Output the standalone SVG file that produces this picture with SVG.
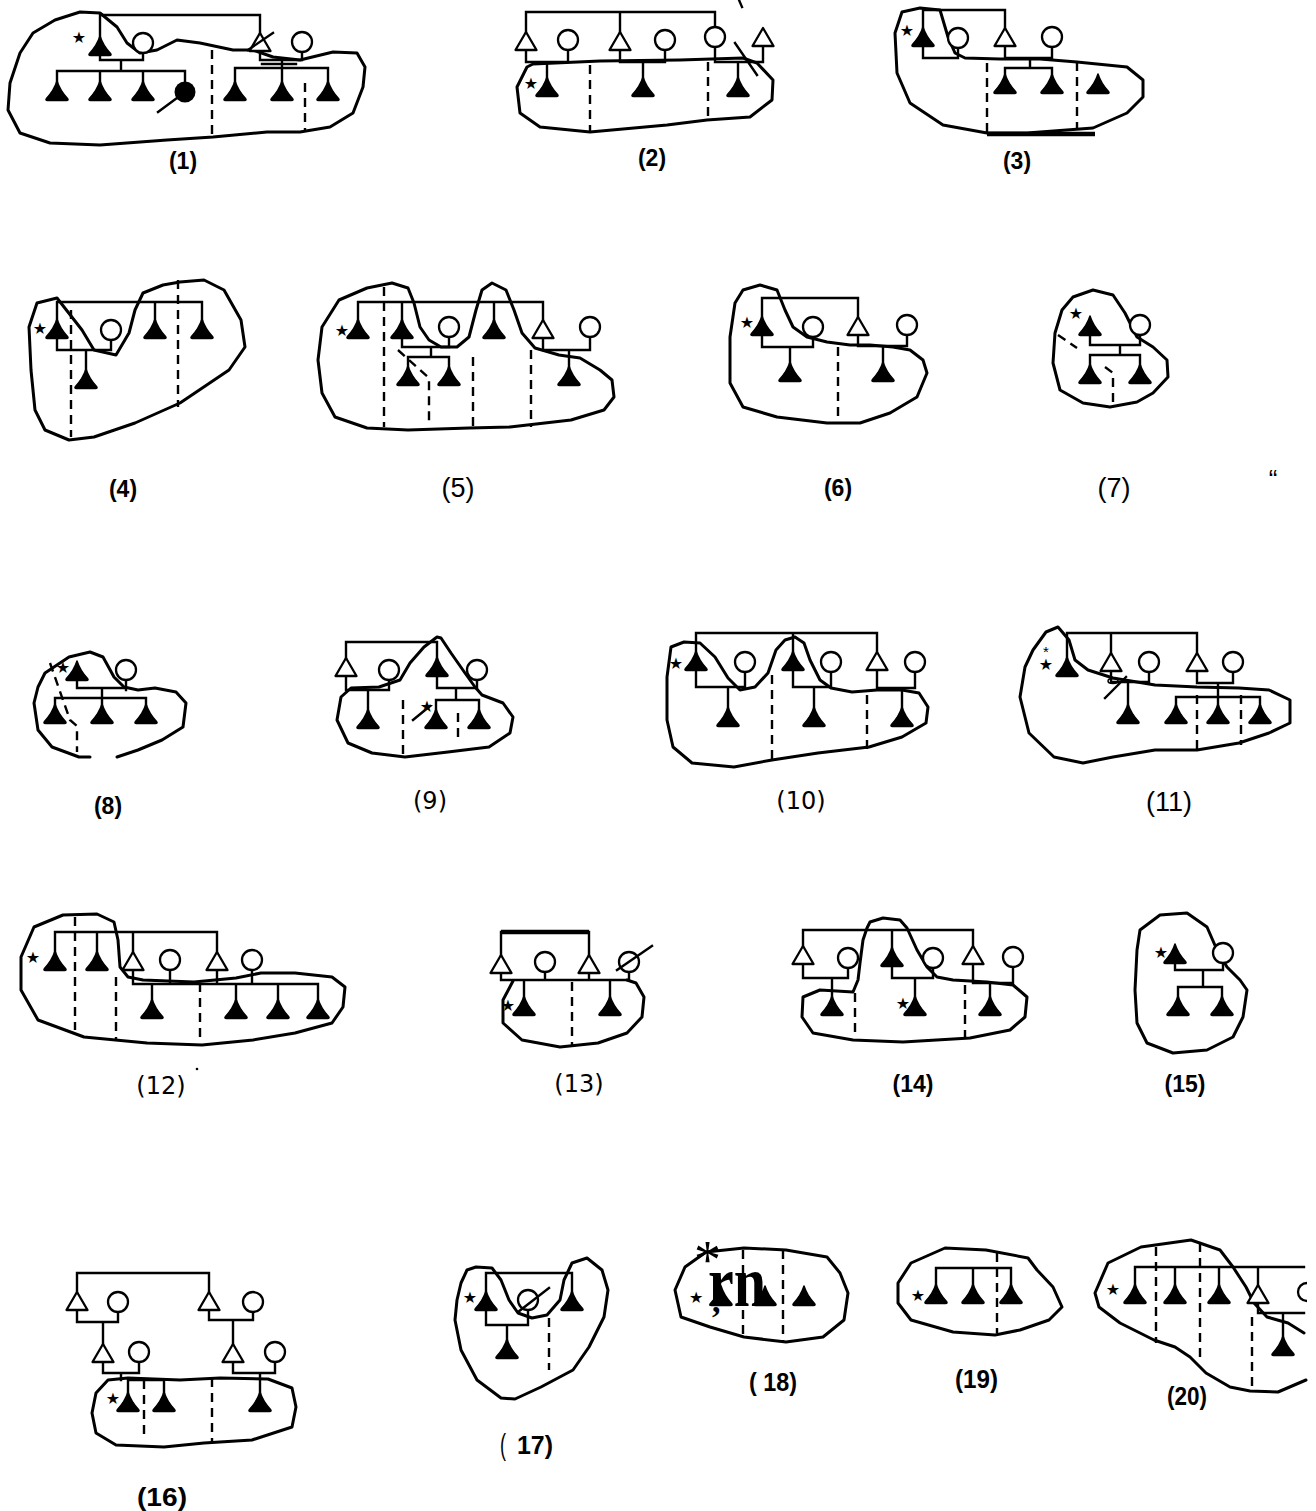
<svg xmlns="http://www.w3.org/2000/svg" xmlns:xlink="http://www.w3.org/1999/xlink" width="1316" height="1511" viewBox="0 0 1316 1511">
<style>
.o{fill:none;stroke:#000;stroke-width:3;stroke-linejoin:round;stroke-linecap:round}
.l{fill:none;stroke:#000;stroke-width:2.4;stroke-linecap:square}
.d{fill:none;stroke:#000;stroke-width:2.4;stroke-dasharray:9 6}
.tf{fill:#000;stroke:#000;stroke-width:1.5;stroke-linejoin:round}
.to{fill:#fff;stroke:#000;stroke-width:2.3;stroke-linejoin:round}
.co{fill:#fff;stroke:#000;stroke-width:2.3}
.s{font-family:"DejaVu Sans",sans-serif;font-size:16px;text-anchor:middle;fill:#000}
.lb{font-family:"Liberation Sans",Arial,sans-serif;font-weight:bold;font-size:23px;text-anchor:middle;fill:#000}
.lt{font-family:"Liberation Sans",Arial,sans-serif;font-size:27px;text-anchor:middle;fill:#000}
.lm{font-family:"DejaVu Sans",sans-serif;font-size:24px;text-anchor:middle;fill:#000}
.ln{font-family:"Liberation Sans",Arial,sans-serif;font-weight:bold;font-size:26px;fill:#000}
</style>
<defs>
<path id="TF" d="M0,0 Q3,9.5 10.5,17.5 Q12,19.5 9.5,19.5 L-9.5,19.5 Q-12,19.5 -10.5,17.5 Q-3,9.5 0,0Z"/>
<path id="TO" d="M0,0 L10.5,18 L-10.5,18Z"/>
<circle id="C" cx="0" cy="0" r="10"/>
</defs>
<rect width="1316" height="1511" fill="#fff"/>

<g id="p1">
<path class="o" d="M100,13 L117,27 L127,43 L140,53 L157,50 L177,40 L200,43 L233,50 L253,50 L273,57 L300,60 L333,52 L357,53 L365,67 L363,87 L353,113 L330,127 L300,132 L267,132 L213,137 L167,140 L100,145 L50,143 L20,133 L8,110 L10,83 L20,53 L33,33 L55,20 L80,12 Z"/>
<path class="l" d="M100,15 H260 M100,15 V37 M260,15 V33 M100,54 V60 H143 M143,53 V60 M121,60 V71 M57,71 H185 M57,71 V82 M100,71 V82 M143,71 V82 M185,71 V82 M260,50 V60 H302 M302,52 V60 M262,64 H296 M282,60 V68 M235,68 H328 M235,68 V82 M282,68 V82 M328,68 V82 M158,112 L177,98"/>
<path class="d" d="M212,50 V137 M305,83 V132"/>
<use href="#TF" class="tf" x="100" y="36"/>
<use href="#C" class="co" x="143" y="43"/>
<use href="#TF" class="tf" x="57" y="81"/><use href="#TF" class="tf" x="100" y="81"/><use href="#TF" class="tf" x="143" y="81"/>
<circle cx="185" cy="92" r="10.5" fill="#000"/>
<use href="#TO" class="to" x="260" y="33"/>
<path class="l" d="M248,50 L273,33"/>
<use href="#C" class="co" x="302" y="42"/>
<use href="#TF" class="tf" x="235" y="81"/><use href="#TF" class="tf" x="282" y="81"/><use href="#TF" class="tf" x="328" y="81"/>
<text class="s" x="79" y="43">★</text>
</g>

<g id="p2">
<path class="o" d="M533,64 L600,61 L680,60 L743,58 L757,63 L773,80 L772,100 L750,117 L707,120 L667,125 L590,132 L540,127 L520,113 L517,87 L527,67 Z"/>
<path class="l" d="M526,12 H715 M526,12 V32 M620,12 V32 M715,12 V27 M526,49 V62 H568 M568,50 V62 M620,49 V62 H665 M665,50 V62 M715,47 V62 H763 M763,45 V62 M547,62 V78 M643,62 V78 M738,62 V78 M735,43 L757,75 M739,0 L742,7"/>
<path class="d" d="M590,65 V132 M708,62 V120"/>
<use href="#TO" class="to" x="526" y="32"/><use href="#TO" class="to" x="620" y="32"/><use href="#TO" class="to" x="763" y="28"/>
<use href="#C" class="co" x="568" y="40"/><use href="#C" class="co" x="665" y="40"/><use href="#C" class="co" x="715" y="37"/>
<use href="#TF" class="tf" x="547" y="77"/><use href="#TF" class="tf" x="643" y="77"/><use href="#TF" class="tf" x="738" y="77"/>
<text class="s" x="531" y="89">★</text>
</g>

<g id="p3">
<path class="o" d="M902,12 L920,8 L940,10 L948,37 L955,53 L965,58 L1000,59 L1040,59 L1077,62 L1127,67 L1143,80 L1143,97 L1127,113 L1093,128 L1027,133 L987,133 L943,125 L910,103 L897,73 L895,33 Z"/>
<path class="l" d="M923,10 H1005 M923,10 V28 M1005,10 V28 M923,46 V58 H958 M958,48 V58 M1005,45 V58 H1052 M1052,47 V58 M1030,58 V68 M1005,68 H1052 M1005,68 V75 M1052,68 V75"/>
<path d="M987,134 H1095" stroke="#000" stroke-width="4.5"/>
<path class="d" d="M987,63 V133 M1077,62 V130"/>
<use href="#TF" class="tf" x="923" y="27"/><use href="#TO" class="to" x="1005" y="28"/>
<use href="#C" class="co" x="958" y="38"/><use href="#C" class="co" x="1052" y="37"/>
<use href="#TF" class="tf" x="1005" y="74"/><use href="#TF" class="tf" x="1052" y="74"/><use href="#TF" class="tf" x="1098" y="74"/>
<text class="s" x="907" y="36">★</text>
</g>

<g id="p4">
<path class="o" d="M57,298 L82,330 L94,350 L116,355 L129,333 L135,310 L143,293 L163,285 L180,282 L204,280 L224,290 L241,320 L245,347 L229,370 L180,403 L135,423 L94,437 L69,440 L45,430 L35,410 L31,370 L29,327 L37,303 Z"/>
<path class="l" d="M57,302 H202 M57,302 V320 M155,302 V320 M202,302 V320 M57,338 V350 H111 M111,340 V350 M86,350 V370"/>
<path class="d" d="M71,310 V437 M178,280 V407"/>
<use href="#TF" class="tf" x="57" y="319"/><use href="#TF" class="tf" x="155" y="319"/><use href="#TF" class="tf" x="202" y="319"/>
<use href="#C" class="co" x="111" y="330"/>
<use href="#TF" class="tf" x="86" y="369"/>
<text class="s" x="40" y="334">★</text>
</g>

<g id="p5">
<path class="o" d="M322,327 L339,300 L367,288 L392,283 L408,288 L414,303 L420,327 L429,340 L441,347 L457,347 L469,337 L476,310 L482,290 L492,283 L506,290 L514,310 L522,333 L535,348 L559,355 L580,358 L600,370 L612,380 L614,397 L604,410 L571,420 L510,427 L469,428 L408,430 L367,428 L335,417 L322,393 L318,360 Z"/>
<path class="l" d="M358,302 H543 M358,302 V320 M402,302 V320 M494,302 V320 M543,302 V320 M402,338 V347 H449 M449,337 V347 M431,347 V357 M408,357 H449 M408,357 V367 M449,357 V367 M543,337 V350 H590 M590,337 V350 M569,350 V367"/>
<path class="d" d="M384,287 V427 M398,350 L429,378 V423 M473,357 V427 M531,350 V427"/>
<use href="#TF" class="tf" x="358" y="319"/><use href="#TF" class="tf" x="402" y="319"/><use href="#TF" class="tf" x="494" y="319"/><use href="#TO" class="to" x="543" y="320"/>
<use href="#C" class="co" x="449" y="327"/><use href="#C" class="co" x="590" y="327"/>
<use href="#TF" class="tf" x="408" y="366"/><use href="#TF" class="tf" x="449" y="366"/><use href="#TF" class="tf" x="569" y="366"/>
<text class="s" x="342" y="336">★</text>
</g>

<g id="p6">
<path class="o" d="M743,290 L760,285 L777,290 L785,310 L793,327 L807,337 L827,342 L850,345 L870,345 L893,347 L910,350 L923,360 L927,373 L917,397 L890,413 L860,423 L827,423 L777,417 L743,407 L730,383 L730,337 L735,303 Z"/>
<path class="l" d="M762,298 H858 M762,298 V317 M858,298 V317 M762,335 V347 H813 M813,337 V347 M790,347 V363 M858,334 V346 H907 M907,335 V346 M883,346 V363"/>
<path class="d" d="M838,347 V420"/>
<use href="#TF" class="tf" x="762" y="316"/><use href="#TO" class="to" x="858" y="317"/>
<use href="#C" class="co" x="813" y="327"/><use href="#C" class="co" x="907" y="325"/>
<use href="#TF" class="tf" x="790" y="362"/><use href="#TF" class="tf" x="883" y="362"/>
<text class="s" x="747" y="328">★</text>
</g>

<g id="p7">
<path class="o" d="M1073,297 L1093,290 L1113,295 L1125,313 L1137,337 L1153,347 L1167,360 L1168,377 L1153,393 L1137,402 L1110,407 L1083,403 L1060,390 L1053,363 L1055,333 L1062,310 Z"/>
<path class="l" d="M1140,335 V345 M1090,335 V345 H1140 M1120,345 V355 M1090,355 H1140 M1090,355 V365 M1140,355 V365"/>
<path class="d" d="M1058,335 L1077,348 M1105,367 L1113,373 V403"/>
<use href="#TF" class="tf" x="1090" y="316"/>
<use href="#C" class="co" x="1140" y="325"/>
<use href="#TF" class="tf" x="1090" y="364"/><use href="#TF" class="tf" x="1140" y="364"/>
<text class="s" x="1076" y="319">★</text>
</g>

<g id="p8">
<path class="o" d="M117,757 L138,750 L162,740 L183,727 L186,703 L176,692 L155,688 L138,690 L124,687 L114,677 L103,657 L90,652 L69,657 L45,673 L38,687 L34,703 L38,730 L52,747 L79,757 L90,757"/>
<path class="l" d="M126,680 V690 M77,680 V688 H126 M102,688 V698 M55,698 H146 M55,698 V705 M102,698 V705 M146,698 V705"/>
<path class="d" d="M50,663 L70,720 L77,726 V752"/>
<use href="#TF" class="tf" x="77" y="661"/>
<use href="#C" class="co" x="126" y="670"/>
<use href="#TF" class="tf" x="55" y="704"/><use href="#TF" class="tf" x="102" y="704"/><use href="#TF" class="tf" x="146" y="704"/>
<text class="s" x="63" y="673">★</text>
</g>

<g id="p9">
<path class="o" d="M437,637 L424,647 L410,663 L400,680 L379,687 L351,688 L341,697 L337,720 L348,743 L372,753 L405,757 L448,752 L489,747 L510,733 L513,717 L503,703 L482,695 L475,687 L465,673 L451,653 L441,638 Z"/>
<path class="l" d="M346,658 V642 H437 V658 M346,676 V690 H389 M389,680 V690 M368,690 V710 M437,676 V688 H477 M477,680 V688 M456,688 V700 M436,700 H479 M436,700 V710 M479,700 V710 M413,720 L430,706"/>
<path class="d" d="M403,700 V757 M458,713 V742"/>
<use href="#TO" class="to" x="346" y="658"/><use href="#TF" class="tf" x="437" y="657"/>
<use href="#C" class="co" x="389" y="670"/><use href="#C" class="co" x="477" y="670"/>
<use href="#TF" class="tf" x="368" y="709"/><use href="#TF" class="tf" x="436" y="709"/><use href="#TF" class="tf" x="479" y="709"/>
<text class="s" x="427" y="712">★</text>
</g>

<g id="p10">
<path class="o" d="M671,647 L684,642 L700,643 L715,657 L728,678 L740,690 L755,687 L768,673 L776,650 L785,640 L795,637 L804,643 L810,660 L820,680 L831,688 L852,692 L877,690 L902,690 L919,693 L928,707 L926,723 L902,737 L869,747 L818,753 L772,760 L734,767 L692,763 L673,747 L667,720 L667,677 Z"/>
<path class="l" d="M696,633 H877 M696,633 V652 M793,633 V652 M877,633 V652 M696,670 V687 H745 M745,672 V687 M728,687 V708 M793,670 V687 H831 M831,672 V687 M814,687 V708 M877,669 V688 H915 M915,672 V688 M902,688 V708"/>
<path class="d" d="M772,675 V760 M867,695 V750"/>
<use href="#TF" class="tf" x="696" y="651"/><use href="#TF" class="tf" x="793" y="651"/><use href="#TO" class="to" x="877" y="652"/>
<use href="#C" class="co" x="745" y="662"/><use href="#C" class="co" x="831" y="662"/><use href="#C" class="co" x="915" y="662"/>
<use href="#TF" class="tf" x="728" y="707"/><use href="#TF" class="tf" x="814" y="707"/><use href="#TF" class="tf" x="902" y="707"/>
<text class="s" x="676" y="669">★</text>
</g>

<g id="p11">
<path class="o" d="M1033,650 L1046,632 L1058,627 L1069,640 L1075,660 L1088,670 L1113,678 L1155,685 L1197,687 L1239,688 L1269,690 L1290,700 L1290,723 L1269,733 L1239,743 L1197,750 L1155,750 L1113,757 L1083,763 L1054,757 L1029,733 L1020,697 L1025,667 Z"/>
<path class="l" d="M1067,633 H1197 M1067,633 V658 M1111,633 V653 M1197,633 V653 M1111,670 V682 H1149 M1149,672 V682 M1128,682 V705 M1105,698 L1126,677 M1197,670 V683 H1233 M1233,672 V683 M1218,683 V697 M1176,697 H1260 M1176,697 V705 M1218,697 V705 M1260,697 V705"/>
<ellipse cx="1113" cy="681" rx="5" ry="2.5" fill="none" stroke="#000" stroke-width="1.5"/>
<path class="d" d="M1197,695 V750 M1241,695 V745"/>
<use href="#TF" class="tf" x="1067" y="657"/><use href="#TO" class="to" x="1111" y="653"/><use href="#TO" class="to" x="1197" y="653"/>
<use href="#C" class="co" x="1149" y="662"/><use href="#C" class="co" x="1233" y="662"/>
<use href="#TF" class="tf" x="1128" y="704"/><use href="#TF" class="tf" x="1176" y="704"/><use href="#TF" class="tf" x="1218" y="704"/><use href="#TF" class="tf" x="1260" y="704"/>
<text class="s"><tspan x="1046" y="657" font-family="Liberation Sans,sans-serif" font-size="15">*</tspan><tspan x="1046" y="670">★</tspan></text>
</g>

<g id="p12">
<path class="o" d="M21,957 L34,927 L63,915 L97,914 L114,922 L118,940 L120,967 L128,977 L143,980 L194,982 L236,978 L261,973 L295,973 L332,977 L345,987 L343,1007 L332,1023 L295,1033 L253,1040 L202,1045 L147,1043 L84,1037 L38,1020 L21,990 Z"/>
<path class="l" d="M55,932 H217 M55,932 V952 M97,932 V952 M133,932 V952 M217,932 V952 M133,970 V984 H318 M170,970 V984 M217,970 V984 M252,970 V984 M152,984 V1000 M236,984 V1000 M278,984 V1000 M318,984 V1000"/>
<path class="d" d="M75,917 V1030 M116,977 V1040 M200,983 V1043"/>
<use href="#TF" class="tf" x="55" y="951"/><use href="#TF" class="tf" x="97" y="951"/><use href="#TO" class="to" x="133" y="952"/><use href="#TO" class="to" x="217" y="952"/>
<use href="#C" class="co" x="170" y="960"/><use href="#C" class="co" x="252" y="960"/>
<use href="#TF" class="tf" x="152" y="999"/><use href="#TF" class="tf" x="236" y="999"/><use href="#TF" class="tf" x="278" y="999"/><use href="#TF" class="tf" x="318" y="999"/>
<text class="s" x="33" y="963">★</text>
</g>

<g id="p13">
<path class="o" d="M513,981 L503,1000 L503,1023 L522,1040 L560,1047 L598,1043 L627,1033 L642,1017 L644,997 L636,983 L627,980"/>
<path d="M501,932 H589" stroke="#000" stroke-width="4.5"/>
<path class="l" d="M501,932 V955 M589,932 V955 M501,972 V980 H629 M545,972 V980 M589,972 V980 M629,972 V980 M524,980 V997 M610,980 V997"/>
<path class="d" d="M572,982 V1047"/>
<use href="#TO" class="to" x="501" y="955"/><use href="#TO" class="to" x="589" y="955"/>
<use href="#C" class="co" x="545" y="962"/><use href="#C" class="co" x="629" y="962"/>
<path class="l" d="M617,970 L652,946"/>
<use href="#TF" class="tf" x="524" y="996"/><use href="#TF" class="tf" x="610" y="996"/>
<text class="s" x="508" y="1011">★</text>
</g>

<g id="p14">
<path class="o" d="M867,928 L870,922 L883,918 L900,920 L907,928 L917,950 L927,967 L937,977 L953,980 L987,982 L1013,985 L1027,997 L1025,1017 L1010,1030 L970,1038 L903,1042 L853,1040 L813,1033 L802,1017 L803,997 L820,990 L853,992 L858,980 L860,963 L863,940 Z"/>
<path class="l" d="M803,930 H973 M803,930 V946 M892,930 V948 M973,930 V946 M803,963 V978 H848 M848,968 V978 M832,978 V997 M892,966 V978 H933 M933,968 V978 M915,978 V997 M973,963 V983 H1013 M1013,967 V983 M990,983 V997"/>
<path class="d" d="M855,993 V1038 M965,985 V1037"/>
<use href="#TO" class="to" x="803" y="946"/><use href="#TF" class="tf" x="892" y="947"/><use href="#TO" class="to" x="973" y="946"/>
<use href="#C" class="co" x="848" y="958"/><use href="#C" class="co" x="933" y="958"/><use href="#C" class="co" x="1013" y="957"/>
<use href="#TF" class="tf" x="832" y="996"/><use href="#TF" class="tf" x="915" y="996"/><use href="#TF" class="tf" x="990" y="996"/>
<text class="s" x="903" y="1009">★</text>
</g>

<g id="p15">
<path class="o" d="M1140,930 L1160,915 L1187,913 L1207,927 L1217,950 L1227,967 L1240,980 L1247,990 L1243,1017 L1233,1037 L1207,1050 L1173,1053 L1147,1043 L1137,1023 L1135,990 L1137,950 Z"/>
<path class="l" d="M1223,963 V970 M1175,963 V970 H1223 M1203,970 V987 M1178,987 H1222 M1178,987 V997 M1222,987 V997"/>
<use href="#TF" class="tf" x="1175" y="944"/>
<use href="#C" class="co" x="1223" y="953"/>
<use href="#TF" class="tf" x="1178" y="996"/><use href="#TF" class="tf" x="1222" y="996"/>
<text class="s" x="1161" y="958">★</text>
</g>

<g id="p16">
<path class="o" d="M108,1380 L128,1378 L180,1380 L220,1378 L268,1379 L292,1388 L296,1407 L292,1427 L252,1440 L204,1443 L164,1447 L116,1445 L96,1433 L92,1413 L96,1393 Z"/>
<path class="l" d="M77,1273 H209 M77,1273 V1292 M209,1273 V1292 M77,1309 V1322 H118 M118,1312 V1322 M103,1322 V1344 M209,1309 V1320 H253 M253,1312 V1320 M233,1320 V1344 M103,1361 V1373 H139 M139,1362 V1373 M233,1361 V1373 H275 M275,1362 V1373 M121,1373 V1380 M128,1380 H164 M128,1380 V1393 M164,1380 V1393 M260,1373 V1393"/>
<path class="d" d="M144,1380 V1440 M212,1378 V1443"/>
<use href="#TO" class="to" x="77" y="1292"/><use href="#TO" class="to" x="209" y="1292"/>
<use href="#C" class="co" x="118" y="1302"/><use href="#C" class="co" x="253" y="1302"/>
<use href="#TO" class="to" x="103" y="1344"/><use href="#TO" class="to" x="233" y="1344"/>
<use href="#C" class="co" x="139" y="1352"/><use href="#C" class="co" x="275" y="1352"/>
<use href="#TF" class="tf" x="128" y="1392"/><use href="#TF" class="tf" x="164" y="1392"/><use href="#TF" class="tf" x="260" y="1392"/>
<text class="s" x="113" y="1404">★</text>
</g>

<g id="p17">
<path class="o" d="M467,1270 L476,1267 L492,1268 L501,1280 L509,1300 L518,1313 L532,1318 L547,1315 L560,1300 L564,1280 L572,1263 L587,1258 L602,1270 L608,1290 L604,1317 L589,1347 L573,1370 L541,1387 L515,1399 L501,1398 L477,1380 L461,1350 L455,1320 L457,1300 L461,1283 Z"/>
<path class="l" d="M486,1273 H572 M486,1273 V1292 M572,1273 V1292 M486,1310 V1325 H528 M528,1310 V1325 M507,1325 V1340"/>
<path class="d" d="M549,1318 V1370"/>
<use href="#TF" class="tf" x="486" y="1291"/><use href="#TF" class="tf" x="572" y="1291"/>
<use href="#C" class="co" x="528" y="1300"/>
<path class="l" d="M518,1312 L549,1288"/>
<use href="#TF" class="tf" x="507" y="1339"/>
<text class="s" x="470" y="1303">★</text>
</g>

<g id="p18">
<path class="o" d="M685,1267 L706,1252 L744,1248 L786,1250 L827,1257 L840,1273 L848,1293 L844,1320 L823,1337 L786,1342 L744,1337 L710,1327 L681,1317 L675,1290 Z"/>
<path class="d" d="M743,1250 V1337 M783,1250 V1342"/>
<use href="#TF" class="tf" x="721" y="1286"/><use href="#TF" class="tf" x="765" y="1286"/><use href="#TF" class="tf" x="804" y="1286"/>
<text font-family="Liberation Serif,serif" fill="#000"><tspan x="689" y="1303" font-family="DejaVu Sans,sans-serif" font-size="16">★</tspan><tspan x="694" y="1278" font-size="54">*</tspan><tspan x="708" y="1306" font-weight="bold" font-size="72" textLength="58" lengthAdjust="spacingAndGlyphs">rn</tspan><tspan x="712" y="1312" font-weight="bold" font-size="34">,</tspan></text>
</g>

<g id="p19">
<path class="o" d="M911,1263 L945,1248 L986,1250 L1028,1258 L1037,1270 L1053,1287 L1062,1307 L1049,1320 L1020,1330 L995,1335 L953,1332 L911,1320 L898,1303 L898,1283 Z"/>
<path class="l" d="M936,1268 H1011 M936,1268 V1285 M973,1268 V1285 M1011,1268 V1285"/>
<path class="d" d="M997,1253 V1333"/>
<use href="#TF" class="tf" x="936" y="1284"/><use href="#TF" class="tf" x="973" y="1284"/><use href="#TF" class="tf" x="1011" y="1284"/>
<text class="s" x="918" y="1301">★</text>
</g>

<g id="p20">
<path class="o" d="M1304,1333 L1288,1323 L1267,1317 L1254,1303 L1246,1287 L1233,1267 L1220,1250 L1191,1240 L1141,1247 L1108,1263 L1095,1293 L1099,1307 L1120,1323 L1154,1340 L1175,1347 L1190,1357 L1206,1373 L1230,1387 L1250,1391 L1278,1392 L1306,1380"/>
<path class="l" d="M1135,1267 H1304 M1135,1267 V1285 M1175,1267 V1285 M1219,1267 V1285 M1258,1267 V1285 M1258,1302 V1313 H1304 M1283,1313 V1337"/>
<path class="d" d="M1156,1247 V1343 M1200,1243 V1363 M1252,1317 V1392"/>
<use href="#TF" class="tf" x="1135" y="1284"/><use href="#TF" class="tf" x="1175" y="1284"/><use href="#TF" class="tf" x="1219" y="1284"/>
<use href="#TO" class="to" x="1258" y="1285"/>
<path d="M1307,1283 A9,9 0 0 0 1307,1301" fill="none" stroke="#000" stroke-width="2.3"/>
<use href="#TF" class="tf" x="1283" y="1336"/>
<text class="s" x="1113" y="1295">★</text>
</g>

<g id="labels">
<text class="lb" x="183" y="169">(1)</text>
<text class="lb" x="652" y="166">(2)</text>
<text class="lb" x="1017" y="169">(3)</text>
<text class="lb" x="123" y="497">(4)</text>
<text class="lt" x="458" y="497">(5)</text>
<text class="lb" x="838" y="496">(6)</text>
<text class="lt" x="1114" y="497">(7)</text>
<text x="1273" y="488" font-family="Liberation Sans,sans-serif" font-size="26" text-anchor="middle">“</text>
<text class="lb" x="108" y="814">(8)</text>
<text class="lm" x="430" y="809">(9)</text>
<text class="lm" x="801" y="809">(10)</text>
<text class="lt" x="1169" y="811">(11)</text>
<text class="lm" x="161" y="1094">(12)</text>
<circle cx="197" cy="1069" r="1.3" fill="#000"/>
<text class="lm" x="579" y="1092">(13)</text>
<text class="lb" x="913" y="1092">(14)</text>
<text class="lb" x="1185" y="1092">(15)</text>
<text class="ln" x="137" y="1506" textLength="50" lengthAdjust="spacingAndGlyphs">(16)</text>
<text x="500" y="1455" font-family="Liberation Sans,sans-serif" font-size="30" textLength="6" lengthAdjust="spacingAndGlyphs">(</text>
<text class="ln" x="517" y="1454" textLength="36" lengthAdjust="spacingAndGlyphs">17)</text>
<text class="ln" x="749" y="1391" textLength="48" lengthAdjust="spacingAndGlyphs">( 18)</text>
<text class="ln" x="955" y="1388" textLength="43" lengthAdjust="spacingAndGlyphs">(19)</text>
<text class="ln" x="1167" y="1405" textLength="40" lengthAdjust="spacingAndGlyphs">(20)</text>
</g>
</svg>
